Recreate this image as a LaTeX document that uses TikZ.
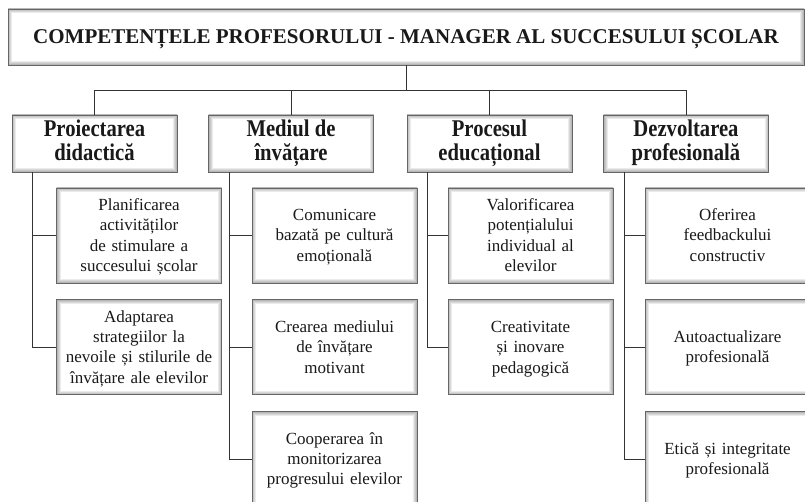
\documentclass[tikz,border=0pt]{standalone}
\usepackage{fontspec}
\setmainfont{Liberation Serif}
\newfontfamily\tallfont[FakeStretch=0.86]{Liberation Serif}
\usetikzlibrary{positioning}

\begin{document}
\begin{tikzpicture}[
  x=1pt, y=1pt,
  every node/.style={align=center, inner sep=0pt, text=black!90},
  bevel/.style={draw=black!60, line width=0.8pt, fill=white,
    path picture={\foreach \w in {2,4,6,8}
      \draw[black, opacity=0.08, line width=\w pt]
        (path picture bounding box.south west) rectangle (path picture bounding box.north east);}},
  struts/.style 2 args={execute at begin node={\rule{0pt}{#1}},
    execute at end node={\rule[-#2]{0pt}{#2}}},
  head/.style={bevel, minimum width=796pt, minimum height=56pt, struts={19pt}{5pt},
    font=\fontsize{21}{24}\selectfont\bfseries},
  area/.style={bevel, minimum width=165pt, minimum height=57pt, struts={21pt}{6pt},
    font=\tallfont\fontsize{24}{24}\selectfont\bfseries},
  item/.style={bevel, minimum width=165pt, minimum height=95pt, text width=158pt, struts={16pt}{5pt},
    font=\fontsize{17}{20.3}\selectfont},
  link/.style={draw=black!80, line width=0.9pt}
]
\useasboundingbox (0,0) rectangle (805,-502);

\node[head] (title) at (406,-37) {COMPETENȚELE PROFESORULUI - MANAGER AL SUCCESULUI ȘCOLAR};

\node[area] (proiect) at (94.5,-143.5) {Proiectarea\\didactică};
\node[area] (mediu) at (291,-143.5) {Mediul de\\învățare};
\node[area] (proces) at (489.5,-143.5) {Procesul\\educațional};
\node[area] (dezvolt) at (686,-143.5) {Dezvoltarea\\profesională};

\node[item] (p1) at (139,-235.5) {Planificarea\\activităților\\de stimulare a\\succesului școlar};
\node[item, below=16pt of p1] (p2) {Adaptarea\\strategiilor la\\nevoile și stilurile de\\învățare ale elevilor};

\node[item] (m1) at (334.5,-235.5) {Comunicare\\bazată pe cultură\\emoțională};
\node[item, below=16pt of m1] (m2) {Crearea mediului\\de învățare\\motivant};
\node[item, below=16pt of m2] (m3) {Cooperarea în\\monitorizarea\\progresului elevilor};

\node[item] (c1) at (530.5,-235.5) {Valorificarea\\potențialului\\individual al\\elevilor};
\node[item, below=16pt of c1] (c2) {Creativitate\\și inovare\\pedagogică};

\node[item] (d1) at (727.5,-235.5) {Oferirea\\feedbackului\\constructiv};
\node[item, below=16pt of d1] (d2) {Autoactualizare\\profesională};
\node[item, below=16pt of d2] (d3) {Etică și integritate\\profesională};

% title to the four areas
\foreach \a in {proiect, mediu, proces, dezvolt}
  \draw[link] (title.south) -- ++(0,-25) -| (\a.north);

% each area to its items
\foreach \a/\b in {proiect/p1, proiect/p2, mediu/m1, mediu/m2, mediu/m3,
                   proces/c1, proces/c2, dezvolt/d1, dezvolt/d2, dezvolt/d3}
  \draw[link] ([xshift=21pt]\a.south west) |- (\b.west);

\end{tikzpicture}
\end{document}
